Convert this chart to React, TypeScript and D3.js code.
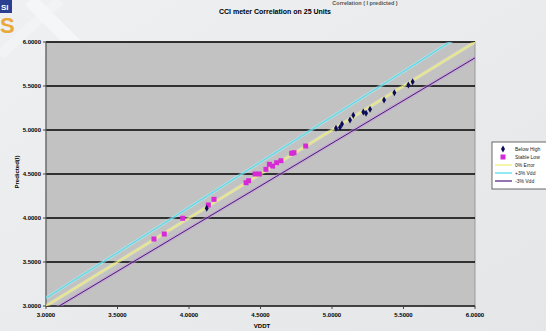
import React from "react";
import * as d3 from "d3";

const xTicks = ["3.0000", "3.5000", "4.0000", "4.5000", "5.0000", "5.5000", "6.0000"];
const yTicks = ["3.0000", "3.5000", "4.0000", "4.5000", "5.0000", "5.5000", "6.0000"];

const belowHighX = [4.124, 5.028, 5.056, 5.07, 5.126, 5.149, 5.219, 5.238, 5.266, 5.364, 5.436, 5.534, 5.564];
const belowHighY = [4.11, 5.019, 5.03, 5.068, 5.114, 5.167, 5.205, 5.19, 5.235, 5.341, 5.424, 5.511, 5.549];

const stableLowX = [3.755, 3.827, 3.956, 4.135, 4.175, 4.399, 4.417, 4.462, 4.492, 4.538, 4.562, 4.585, 4.613, 4.643, 4.718, 4.734, 4.816];
const stableLowY = [3.761, 3.818, 3.997, 4.148, 4.212, 4.401, 4.424, 4.5, 4.5, 4.553, 4.61, 4.59, 4.628, 4.651, 4.735, 4.742, 4.818];

const refNames = ["0% Error", "+3% Vdd", "-3% Vdd"];
const refFactors = [1.0, 1.03, 0.97];
const refEnds = [3.0, 6.0];

const legendNames = ["Below High", "Stable Low", "0% Error", "+3% Vdd", "-3% Vdd"];

const headline = "Correlation ( I predicted )";
const title = "CCI meter Correlation on 25 Units";
const xTitle = "VDDT";
const yTitle = "Predicted(I)";

export default function App() {
  const W = 546, H = 331;
  const L = 46, R = 475, T = 42, B = 306;
  const x = d3.scaleLinear().domain([3, 6]).range([L, R]);
  const y = d3.scaleLinear().domain([3, 6]).range([B, T]);
  const refColors = ["#eeee70", "#45dcec", "#4a1878"];
  const glowColors = ["#f6f6b0", "#a8eef5", "#c898e0"];
  const line = d3.line<[number, number]>().x((d) => x(d[0])).y((d) => y(d[1]));
  const yt = y.ticks(6);
  const xt = x.ticks(6);
  const font = "'Liberation Sans', Arial, sans-serif";
  const diamond = d3.symbol().type(d3.symbolDiamond).size(14)() as string;

  return (
    <svg width={W} height={H} style={{ position: "fixed", left: 0, top: 0 }} fontFamily={font}>
      <defs>
        <linearGradient id="bg" x1="0" y1="0" x2="1" y2="1">
          <stop offset="0" stopColor="#eef0f1" />
          <stop offset="1" stopColor="#e4e6e8" />
        </linearGradient>
        <clipPath id="plot">
          <rect x={L} y={T} width={R - L} height={B - T} />
        </clipPath>
      </defs>
      <rect width={W} height={H} fill="url(#bg)" />
      <path d="M30,0 L110,80" stroke="#f7f8f9" strokeWidth={14} opacity={0.8} />
      <path d="M0,55 L60,0" stroke="#f5f6f7" strokeWidth={10} opacity={0.6} />
      {/* logo */}
      <rect x={0} y={0} width={12} height={13} fill="#2a3f8f" />
      <text x={1} y={10} fontSize={8} fontWeight="bold" fill="#ffffff">SI</text>
      <text x={0} y={33} fontSize={22} fontWeight="bold" fill="#e8a83a">S</text>
      {/* headline */}
      <text x={365} y={5} fontSize={5.5} fontWeight="bold" fill="#555" textAnchor="middle">{headline}</text>
      <text x={275} y={14} fontSize={7} fontWeight="bold" fill="#000" textAnchor="middle">{title}</text>

      {/* plot area */}
      <rect x={L} y={T} width={R - L} height={B - T} fill="#c2c2c2" stroke="#9a9a9a" strokeWidth={1} />
      {yt.map((v) => (
        <line key={"g" + v} x1={L} x2={R} y1={y(v)} y2={y(v)} stroke="#000" strokeWidth={1.5} />
      ))}
      <line x1={L} x2={L} y1={T} y2={B} stroke="#555" strokeWidth={1} />
      <line x1={L} x2={R} y1={B} y2={B} stroke="#555" strokeWidth={1} />
      {xt.map((v) => (
        <line key={"xt" + v} x1={x(v)} x2={x(v)} y1={B} y2={B + 3} stroke="#444" />
      ))}
      {yt.map((v) => (
        <line key={"yt" + v} x1={L - 3} x2={L} y1={y(v)} y2={y(v)} stroke="#444" />
      ))}

      <g clipPath="url(#plot)">
        {refFactors.map((k, i) => (
          <path key={"glow" + i} d={line(refEnds.map((v) => [v, v * k] as [number, number])) || ""}
            stroke={glowColors[i]} strokeWidth={3.5} fill="none" opacity={0.5} />
        ))}
        {refFactors.map((k, i) => (
          <path key={"ref" + i} d={line(refEnds.map((v) => [v, v * k] as [number, number])) || ""}
            stroke={refColors[i]} strokeWidth={1} fill="none" />
        ))}
        {stableLowX.map((v, i) => (
          <rect key={"s" + i} x={x(v) - 2.5} y={y(stableLowY[i]) - 2.5} width={5} height={5} fill="#d62ad6" />
        ))}
        {belowHighX.map((v, i) => (
          <path key={"b" + i} d={diamond} transform={`translate(${x(v)},${y(belowHighY[i])})`} fill="#0c0c5a" />
        ))}
      </g>

      {yTicks.map((t, i) => (
        <text key={"yl" + i} x={L - 5} y={y(yt[i]) + 2} fontSize={6} fontWeight="bold" textAnchor="end" fill="#000">{t}</text>
      ))}
      {xTicks.map((t, i) => (
        <text key={"xl" + i} x={x(xt[i])} y={B + 11} fontSize={6} fontWeight="bold" textAnchor="middle" fill="#000">{t}</text>
      ))}
      <text x={262} y={328} fontSize={6} fontWeight="bold" textAnchor="middle" fill="#000">{xTitle}</text>
      <text transform="translate(19,172) rotate(-90)" fontSize={6} fontWeight="bold" textAnchor="middle" fill="#000">{yTitle}</text>

      {/* legend */}
      <rect x={492} y={142} width={62} height={47} fill="#ffffff" stroke="#444" strokeWidth={0.8} />
      {legendNames.map((n, i) => {
        const cy = 149 + i * 8;
        let mark: React.ReactNode = null;
        if (i === 0) mark = <path d={diamond} transform={`translate(503,${cy})`} fill="#0c0c5a" />;
        else if (i === 1) mark = <rect x={500.5} y={cy - 2.5} width={5} height={5} fill="#d62ad6" />;
        else mark = <line x1={495} x2={512} y1={cy} y2={cy} stroke={refColors[i - 2]} strokeWidth={1.2} />;
        return (
          <g key={"lg" + i}>
            {mark}
            <text x={515} y={cy + 2} fontSize={5} fill="#222">{n}</text>
          </g>
        );
      })}
    </svg>
  );
}
